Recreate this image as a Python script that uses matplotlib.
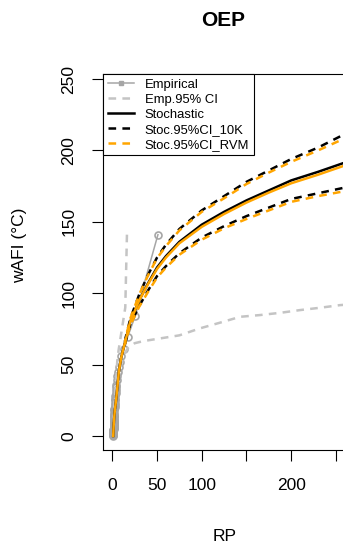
import matplotlib
matplotlib.use("Agg")
import matplotlib.pyplot as plt
from matplotlib.lines import Line2D

plt.rcParams['font.family'] = ['Liberation Sans', 'DejaVu Sans']
plt.rcParams['lines.scale_dashes'] = False

# Empirical points (return period, wAFI)
emp_rp = [51, 25.5, 17, 12.75, 10.2, 8.5, 7.29, 6.38, 5.67, 5.1, 4.64, 4.25, 3.92,
          3.64, 3.4, 3.19, 3.0, 2.83, 2.68, 2.55, 2.43, 2.32, 2.22, 2.13, 2.04,
          1.96, 1.89, 1.82, 1.76, 1.7, 1.65, 1.59, 1.55, 1.5, 1.46, 1.42, 1.38,
          1.34, 1.31, 1.28, 1.24, 1.21, 1.19, 1.16, 1.13, 1.11, 1.09, 1.06, 1.04, 1.02]
emp_val = [141, 84, 69, 61, 56, 52, 48, 45, 42, 39, 36, 34, 32,
           30, 28, 26, 25, 23, 22, 20, 19, 18, 16, 15, 14,
           13, 12, 11, 10, 9.5, 9, 8, 7.5, 7, 6.5, 6, 5.5,
           5, 4.5, 4, 3.5, 3, 2.7, 2.3, 2, 1.6, 1.2, 0.8, 0.4, 0.1]

# Empirical 95% CI
emp_hi_rp = [1.0, 1.3, 1.8, 2.5, 3.5, 4.5, 5.5, 7, 9, 14.5, 16.4]
emp_hi_val = [0, 8, 16, 25, 33, 42, 52, 60, 68, 90, 142]
emp_lo_rp = [1.05, 1.6, 2.5, 4, 6, 9, 13, 18, 25, 35, 50, 75, 98, 120, 143, 165,
             188, 210, 232, 255, 275]
emp_lo_val = [0, 8, 17, 28, 38, 48, 57, 62, 65, 66.5, 68, 70.5, 75.4, 79.3, 83.5,
              84.7, 86.3, 88.2, 89.8, 91.7, 92.5]

# Stochastic curve and 95% CI (10K)
sto_rp = [1, 1.5, 2, 3, 4, 5, 7.5, 10, 14, 20, 30, 40, 50, 60, 75, 100, 125, 150,
          175, 200, 230, 260]
sto_val = [0, 7, 12, 19, 24, 30, 46, 55, 65, 80, 95, 107, 118, 126, 136, 148, 157,
           165, 172, 179, 185, 191.5]
ci_rp = [14, 20, 30, 40, 50, 60, 75, 100, 125, 150, 175, 200, 230, 260]
ci10k_hi = [66, 82, 99, 113, 125, 134, 145, 158, 168, 178, 186, 194, 202, 211.5]
ci10k_lo = [64, 78, 91, 102, 112, 119, 128, 139, 147, 154, 160, 166, 170, 174]

# RVM curve and 95% CI
rvm_val = [0, 7, 12, 19, 24, 30, 46, 55, 65, 80, 95, 106.5, 117, 125, 135, 146.5,
           155.5, 163.5, 170.5, 177, 183, 189.5]
rvm_hi = [66, 82, 99, 112.5, 124.5, 133, 144, 157, 166.5, 176.5, 184.5, 192, 200, 208.5]
rvm_lo = [64, 77.5, 90.5, 101, 111, 118, 127, 137.5, 145.5, 152, 158, 164, 168, 171.5]

emp_gray = '#a6a6a6'
ci_gray = '#c4c4c4'
orange = '#ffa500'
dash = (0, (5.5, 4.5))

fig = plt.figure(figsize=(3.43, 5.5), dpi=100)
ax = fig.add_axes([0.3003, 0.1818, 0.7055, 0.6836])

ax.plot(emp_rp, emp_val, color=emp_gray, lw=1.1, marker='o', ms=5,
        mfc='none', mec=emp_gray, mew=1.2)
ax.plot(emp_hi_rp, emp_hi_val, color=ci_gray, lw=1.8, ls=dash)
ax.plot(emp_lo_rp, emp_lo_val, color=ci_gray, lw=1.8, ls=dash)

ax.plot(sto_rp, sto_val, color='black', lw=1.8)
ax.plot(ci_rp, ci10k_hi, color='black', lw=1.8, ls=dash)
ax.plot(ci_rp, ci10k_lo, color='black', lw=1.8, ls=dash)
ax.plot(ci_rp, rvm_hi, color=orange, lw=1.8, ls=(3, (5.5, 4.5)))
ax.plot(ci_rp, rvm_lo, color=orange, lw=1.8, ls=(3, (5.5, 4.5)))
ax.plot(sto_rp, rvm_val, color=orange, lw=1.8)

ax.set_xlim(-10.4, 260.1)
ax.set_ylim(-9.8, 253.5)
ax.set_xticks([0, 50, 100, 150, 200, 250])
ax.set_xticklabels(['0', '50', '100', '', '200', ''])
ax.set_yticks([0, 50, 100, 150, 200, 250])
ax.set_yticklabels(['0', '50', '100', '150', '200', '250'], rotation=90, va='center')
ax.tick_params(length=8, width=0.8, labelsize=12.5)
ax.tick_params(axis='x', pad=12)
ax.tick_params(axis='y', pad=11)
for s in ax.spines.values():
    s.set_linewidth(0.8)

ax.set_xlabel('RP', fontsize=12.5)
ax.xaxis.set_label_coords(0.504, -0.231)
ax.xaxis.label.set_va('center')
ax.set_ylabel('wAFI (°C)', fontsize=12.5)
ax.yaxis.set_label_coords(-0.343, 0.545)
ax.yaxis.label.set_va('center')

fig.text(223 / 343, 1 - 20 / 550, 'OEP', ha='center', va='center',
         fontsize=15, fontweight='bold')

handles = [
    Line2D([], [], color=emp_gray, lw=1.1, marker='s', ms=3),
    Line2D([], [], color=ci_gray, lw=1.8, ls=dash),
    Line2D([], [], color='black', lw=1.8),
    Line2D([], [], color='black', lw=1.8, ls=dash),
    Line2D([], [], color=orange, lw=1.8, ls=dash),
]
labels = ['Empirical', 'Emp.95% CI', 'Stochastic', 'Stoc.95%CI_10K', 'Stoc.95%CI_RVM']
leg = ax.legend(handles, labels, loc='upper left', bbox_to_anchor=(0, 1),
                borderaxespad=0, fontsize=9.4, handlelength=2.0,
                handletextpad=0.85, labelspacing=0.22, borderpad=0.35,
                fancybox=False, framealpha=1, edgecolor='black')
leg.get_frame().set_linewidth(0.8)

fig.savefig('out.png', dpi=100)
